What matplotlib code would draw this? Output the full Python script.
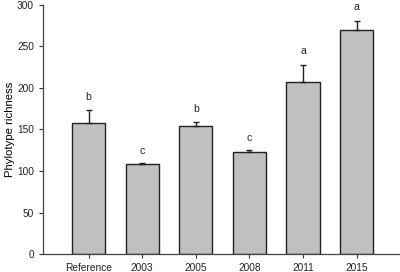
import matplotlib
matplotlib.use("Agg")
import matplotlib.pyplot as plt

categories = ["Reference", "2003", "2005", "2008", "2011", "2015"]
richness = [158, 108, 154, 123, 207, 270]
errors = [15, 1.5, 4.5, 2, 21, 11]
letters = ["b", "c", "b", "c", "a", "a"]
letter_y = [189, 124, 175, 140, 245, 297]

plt.rcParams["font.family"] = ["Liberation Sans", "DejaVu Sans"]

fig = plt.figure(figsize=(4.0, 2.72), dpi=100)
ax = fig.add_axes([0.1075, 0.066, 0.89, 0.916])

x = list(range(len(categories)))
ax.bar(x, richness, width=0.62, color="#c0c0c0", edgecolor="#222222",
       linewidth=1.0, zorder=2)
ax.errorbar(x, richness, yerr=[[0] * len(errors), errors], fmt="none",
            ecolor="#222222", elinewidth=1.0, capsize=2.2, capthick=1.0, zorder=3)
for xi, lab, ly in zip(x, letters, letter_y):
    ax.text(xi, ly, lab, ha="center", va="center", fontsize=7.5, color="#222222")

ax.set_xlim(-0.85, 5.79)
ax.set_ylim(0, 300)
ax.set_yticks(range(0, 301, 50))
ax.set_xticks(x)
ax.set_xticklabels(categories)
ax.set_ylabel("Phylotype richness", fontsize=8.2, va="center")
ax.yaxis.set_label_coords(-0.093, 0.5)
ax.tick_params(axis="both", labelsize=7.3, length=3, width=0.8, color="#333333",
               labelcolor="#222222", pad=3.5)
for side in ["top", "right"]:
    ax.spines[side].set_visible(False)
for side in ["left", "bottom"]:
    ax.spines[side].set_linewidth(0.9)
    ax.spines[side].set_color("#444444")

fig.savefig("out.png", dpi=100)
